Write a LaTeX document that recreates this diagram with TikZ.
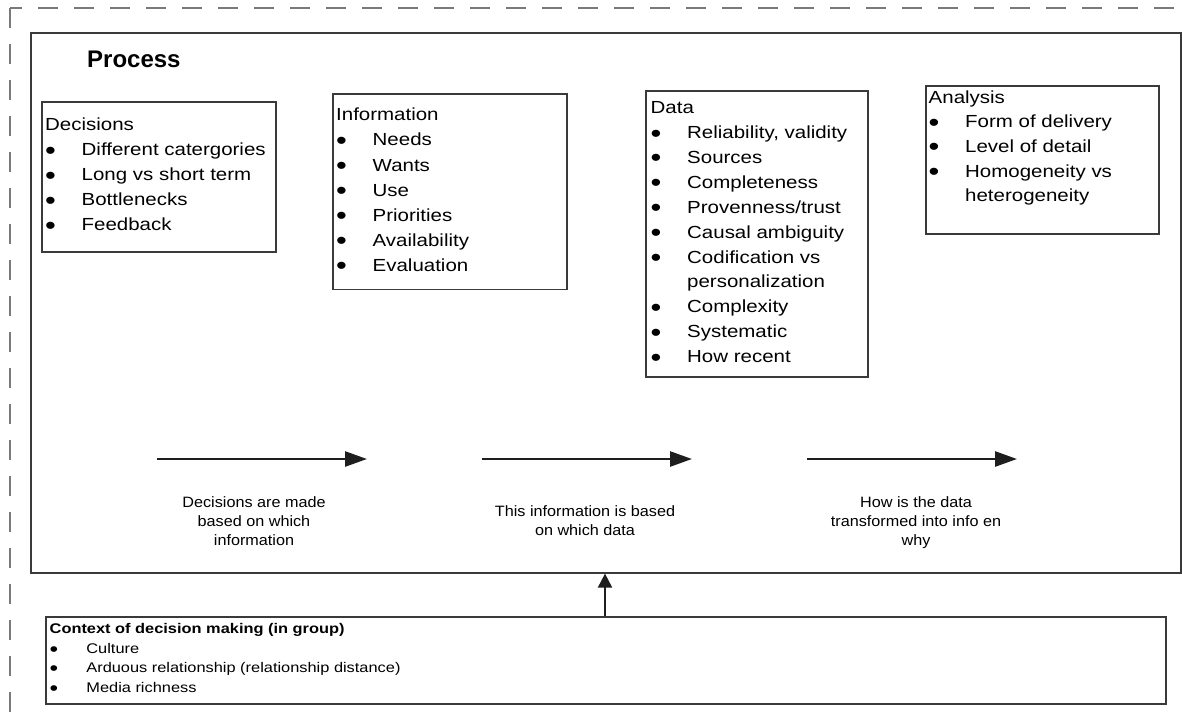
\documentclass[tikz,border=0pt]{standalone}
\usepackage{fontspec}
\usepackage{graphicx}
\setmainfont{Liberation Sans}
% slightly widened faces for the list and caption texts
\newfontfamily\boxfont[FakeStretch=1.17]{Liberation Sans}
\newfontfamily\lblfont[FakeStretch=1.08]{Liberation Sans}
\usetikzlibrary{arrows.meta}

\definecolor{framegray}{HTML}{7A7A7A}
\definecolor{boxline}{HTML}{3A3A3A}
\definecolor{arrowink}{HTML}{1E1E1E}

% bullet item with a fixed indent; the dot is enlarged and set a little low
\newcommand{\dotmark}{\raisebox{-0.2em}{\scalebox{1.5}{\textbullet}}}
\newcommand{\bl}[2][36.5pt]{\makebox[#1][l]{\dotmark}#2}

\tikzset{
  panel/.style={draw=boxline, line width=1.6pt, anchor=north west, inner sep=0pt, fill=white},
  listtext/.style={anchor=north west, inner sep=0pt, align=left, text=black},
  caption/.style={anchor=north, inner sep=0pt, align=center, text=black,
    font=\lblfont\fontsize{15}{19}\selectfont},
  flow/.style={draw=arrowink, line width=2.5pt, -{Triangle[length=22pt,width=15pt]}},
  feed/.style={draw=arrowink, line width=2pt, -{Triangle[length=14pt,width=14pt]}},
  outer/.style={draw=framegray, line width=2pt, dash pattern=on 20pt off 16pt},
}

\begin{document}
\begin{tikzpicture}[x=1pt,y=-1pt]
\useasboundingbox (0,0) rectangle (1182,713);

% outer dashed frame (only its top and left sides lie inside the picture)
\coordinate (corner) at (10,8);
\coordinate (frameB) at (10,713);
\coordinate (frameR) at (1182,8);
\draw[outer] (corner) -- (frameB);
\draw[outer, dash phase=8pt] (corner) -- (frameR);

% process frame
\node[panel, minimum width=1150pt, minimum height=540pt] (proc) at (30,32) {};
\node[anchor=base west, inner sep=0pt, font=\bfseries\fontsize{24}{29}\selectfont] (proctitle) at (87,67.7) {Process};

% the four stages
\node[panel, minimum width=234pt, minimum height=150pt] (dec) at (41,101) {};
\node[listtext, font=\boxfont\fontsize{17.5}{25}\selectfont] (dect) at (45,113) {\strut Decisions\\
  \bl{Different catergories}\\
  \bl{Long vs short term}\\
  \bl{Bottlenecks}\\
  \bl{Feedback}};

\node[panel, minimum width=234pt, minimum height=195.5pt] (inf) at (332,93) {};
\node[listtext, font=\boxfont\fontsize{17.5}{25.05}\selectfont] (inft) at (336,103.2) {\strut Information\\
  \bl{Needs}\\
  \bl{Wants}\\
  \bl{Use}\\
  \bl{Priorities}\\
  \bl{Availability}\\
  \bl{Evaluation}};

\node[panel, minimum width=222pt, minimum height=286pt] (dat) at (645,90) {};
\node[listtext, font=\boxfont\fontsize{17.5}{24.9}\selectfont] (datt) at (650.5,96) {\strut Data\\
  \bl{Reliability, validity}\\
  \bl{Sources}\\
  \bl{Completeness}\\
  \bl{Provenness/trust}\\
  \bl{Causal ambiguity}\\
  \bl{Codification vs}\\
  \hspace*{36.5pt}personalization\\
  \bl{Complexity}\\
  \bl{Systematic}\\
  \bl{How recent}};

\node[panel, minimum width=233pt, minimum height=148pt] (ana) at (925,85) {};
\node[listtext, font=\boxfont\fontsize{17.5}{24.6}\selectfont] (anat) at (928.5,85.8) {\strut Analysis\\
  \bl{Form of delivery}\\
  \bl{Level of detail}\\
  \bl{Homogeneity vs}\\
  \hspace*{36.5pt}heterogeneity};

% flow arrows with their captions
\coordinate (f1s) at (157,459); \coordinate (f1e) at (367,459);
\coordinate (f2s) at (482,459); \coordinate (f2e) at (692,459);
\coordinate (f3s) at (807,459); \coordinate (f3e) at (1017,459);
\draw[flow] (f1s) -- (f1e);
\draw[flow] (f2s) -- (f2e);
\draw[flow] (f3s) -- (f3e);

\node[caption] (c1) at (254,494.4) {\strut Decisions are made\\based on which\\information};
\node[caption] (c2) at (585,502.7) {\strut This information is based\\on which data};
\node[caption] (c3) at (916,493.7) {\strut How is the data\\transformed into info en\\why};

% context box feeding into the process
\node[panel, minimum width=1120pt, minimum height=87pt] (ctx) at (45,616) {};
\node[listtext, font=\boxfont\fontsize{14}{19.7}\selectfont] (ctxt) at (49.5,619.5) {\strut\textbf{Context of decision making (in group)}\\
  \bl[36.7pt]{Culture}\\
  \bl[36.7pt]{Arduous relationship (relationship distance)}\\
  \bl[36.7pt]{Media richness}};

\coordinate (feedx) at (605,0);
\draw[feed] (ctx.north -| feedx) -- (proc.south -| feedx);
\end{tikzpicture}
\end{document}
